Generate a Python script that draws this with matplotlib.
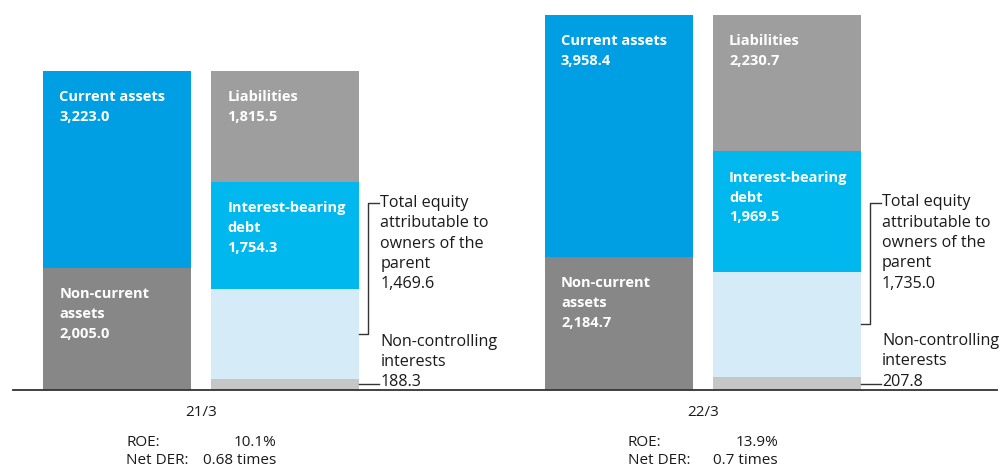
import matplotlib
matplotlib.use("Agg")
import matplotlib.pyplot as plt

plt.rcParams['font.family'] = ['Open Sans', 'DejaVu Sans']

periods = ["21/3", "22/3"]
current_assets = [3223.0, 3958.4]
non_current_assets = [2005.0, 2184.7]
liabilities = [1815.5, 2230.7]
interest_bearing_debt = [1754.3, 1969.5]
equity_parent = [1469.6, 1735.0]
non_controlling = [188.3, 207.8]
roe = ["10.1%", "13.9%"]
net_der = ["0.68 times", "0.7 times"]

C_CUR = "#009FE3"
C_NONCUR = "#878787"
C_LIAB = "#9D9E9D"
C_IBD = "#00B8EE"
C_EQ = "#D5EBF8"
C_NCI = "#C6C6C6"
C_TXT = "#1a1a1a"

W, H = 1003, 468
fig = plt.figure(figsize=(W / 100, H / 100), dpi=100)
base_px = 390
units_per_px = 16.4
ax = fig.add_axes([0, (H - base_px) / H, 1, base_px / H])
ax.set_xlim(0, W)
ax.set_ylim(0, base_px * units_per_px)
ax.axis("off")

group_centers = [201.5, 703]
bw = 148
off = 84
LSP = 20  # pixel line spacing

fs_b = 10.5
fs_n = 11.6

def seg_label(text, x_left, top):
    n = text.count("\n")
    ax.annotate(text, xy=(x_left, top), xytext=(16, -30 - n * LSP),
                textcoords="offset pixels", color="white", fontweight="bold",
                fontsize=fs_b, linespacing=1.54, va="baseline", ha="left")

def side_label(text, x, y, dy_last):
    ax.annotate(text, xy=(x, y), xytext=(21, dy_last), textcoords="offset pixels",
                fontsize=fs_n, linespacing=1.36, va="baseline", ha="left", color=C_TXT)

for i, gc in enumerate(group_centers):
    xa = gc - off
    xl = gc + off
    ax.bar(xa, non_current_assets[i], width=bw, color=C_NONCUR, linewidth=0)
    ax.bar(xa, current_assets[i], bottom=non_current_assets[i], width=bw,
           color=C_CUR, linewidth=0)
    b0 = 0
    ax.bar(xl, non_controlling[i], bottom=b0, width=bw, color=C_NCI, linewidth=0)
    b1 = b0 + non_controlling[i]
    ax.bar(xl, equity_parent[i], bottom=b1, width=bw, color=C_EQ, linewidth=0)
    b2 = b1 + equity_parent[i]
    ax.bar(xl, interest_bearing_debt[i], bottom=b2, width=bw, color=C_IBD, linewidth=0)
    b3 = b2 + interest_bearing_debt[i]
    ax.bar(xl, liabilities[i], bottom=b3, width=bw, color=C_LIAB, linewidth=0)
    b4 = b3 + liabilities[i]

    la = xa - bw / 2
    ll = xl - bw / 2
    seg_label(f"Current assets\n{current_assets[i]:,.1f}", la,
              non_current_assets[i] + current_assets[i])
    seg_label(f"Non-current\nassets\n{non_current_assets[i]:,.1f}", la,
              non_current_assets[i])
    seg_label(f"Liabilities\n{liabilities[i]:,.1f}", ll, b4)
    seg_label(f"Interest-bearing\ndebt\n{interest_bearing_debt[i]:,.1f}", ll, b3)

    right = xl + bw / 2
    nci_mid = non_controlling[i] / 2
    eq_mid = b1 + equity_parent[i] / 2
    side_label(f"Non-controlling\ninterests\n{non_controlling[i]:,.1f}",
               right, nci_mid, -2)
    ax.plot([right, right + 20], [nci_mid, nci_mid], color="#333333", lw=1.0)
    top_y = nci_mid + 181 * units_per_px
    side_label(f"Total equity\nattributable to\nowners of the\nparent\n{equity_parent[i]:,.1f}",
               right, nci_mid, 96)
    ax.plot([right, right + 9, right + 9, right + 20],
            [eq_mid, eq_mid, top_y, top_y], color="#333333", lw=1.0)

    ax.annotate(periods[i], xy=(gc, 0), xytext=(0, -22), textcoords="offset pixels",
                ha="center", va="center", fontsize=11, color=C_TXT)
    ax.annotate("ROE:", xy=(gc - 75, 0), xytext=(0, -53), textcoords="offset pixels",
                ha="left", va="center", fontsize=11, color=C_TXT)
    ax.annotate(roe[i], xy=(gc + 75, 0), xytext=(0, -53), textcoords="offset pixels",
                ha="right", va="center", fontsize=11, color=C_TXT)
    ax.annotate("Net DER:", xy=(gc - 75, 0), xytext=(0, -71), textcoords="offset pixels",
                ha="left", va="center", fontsize=11, color=C_TXT)
    ax.annotate(net_der[i], xy=(gc + 75, 0), xytext=(0, -71), textcoords="offset pixels",
                ha="right", va="center", fontsize=11, color=C_TXT)

ax.plot([13, 997], [0, 0], color="#333333", lw=1.3, clip_on=False, zorder=5)

fig.savefig("out.png", dpi=100)
